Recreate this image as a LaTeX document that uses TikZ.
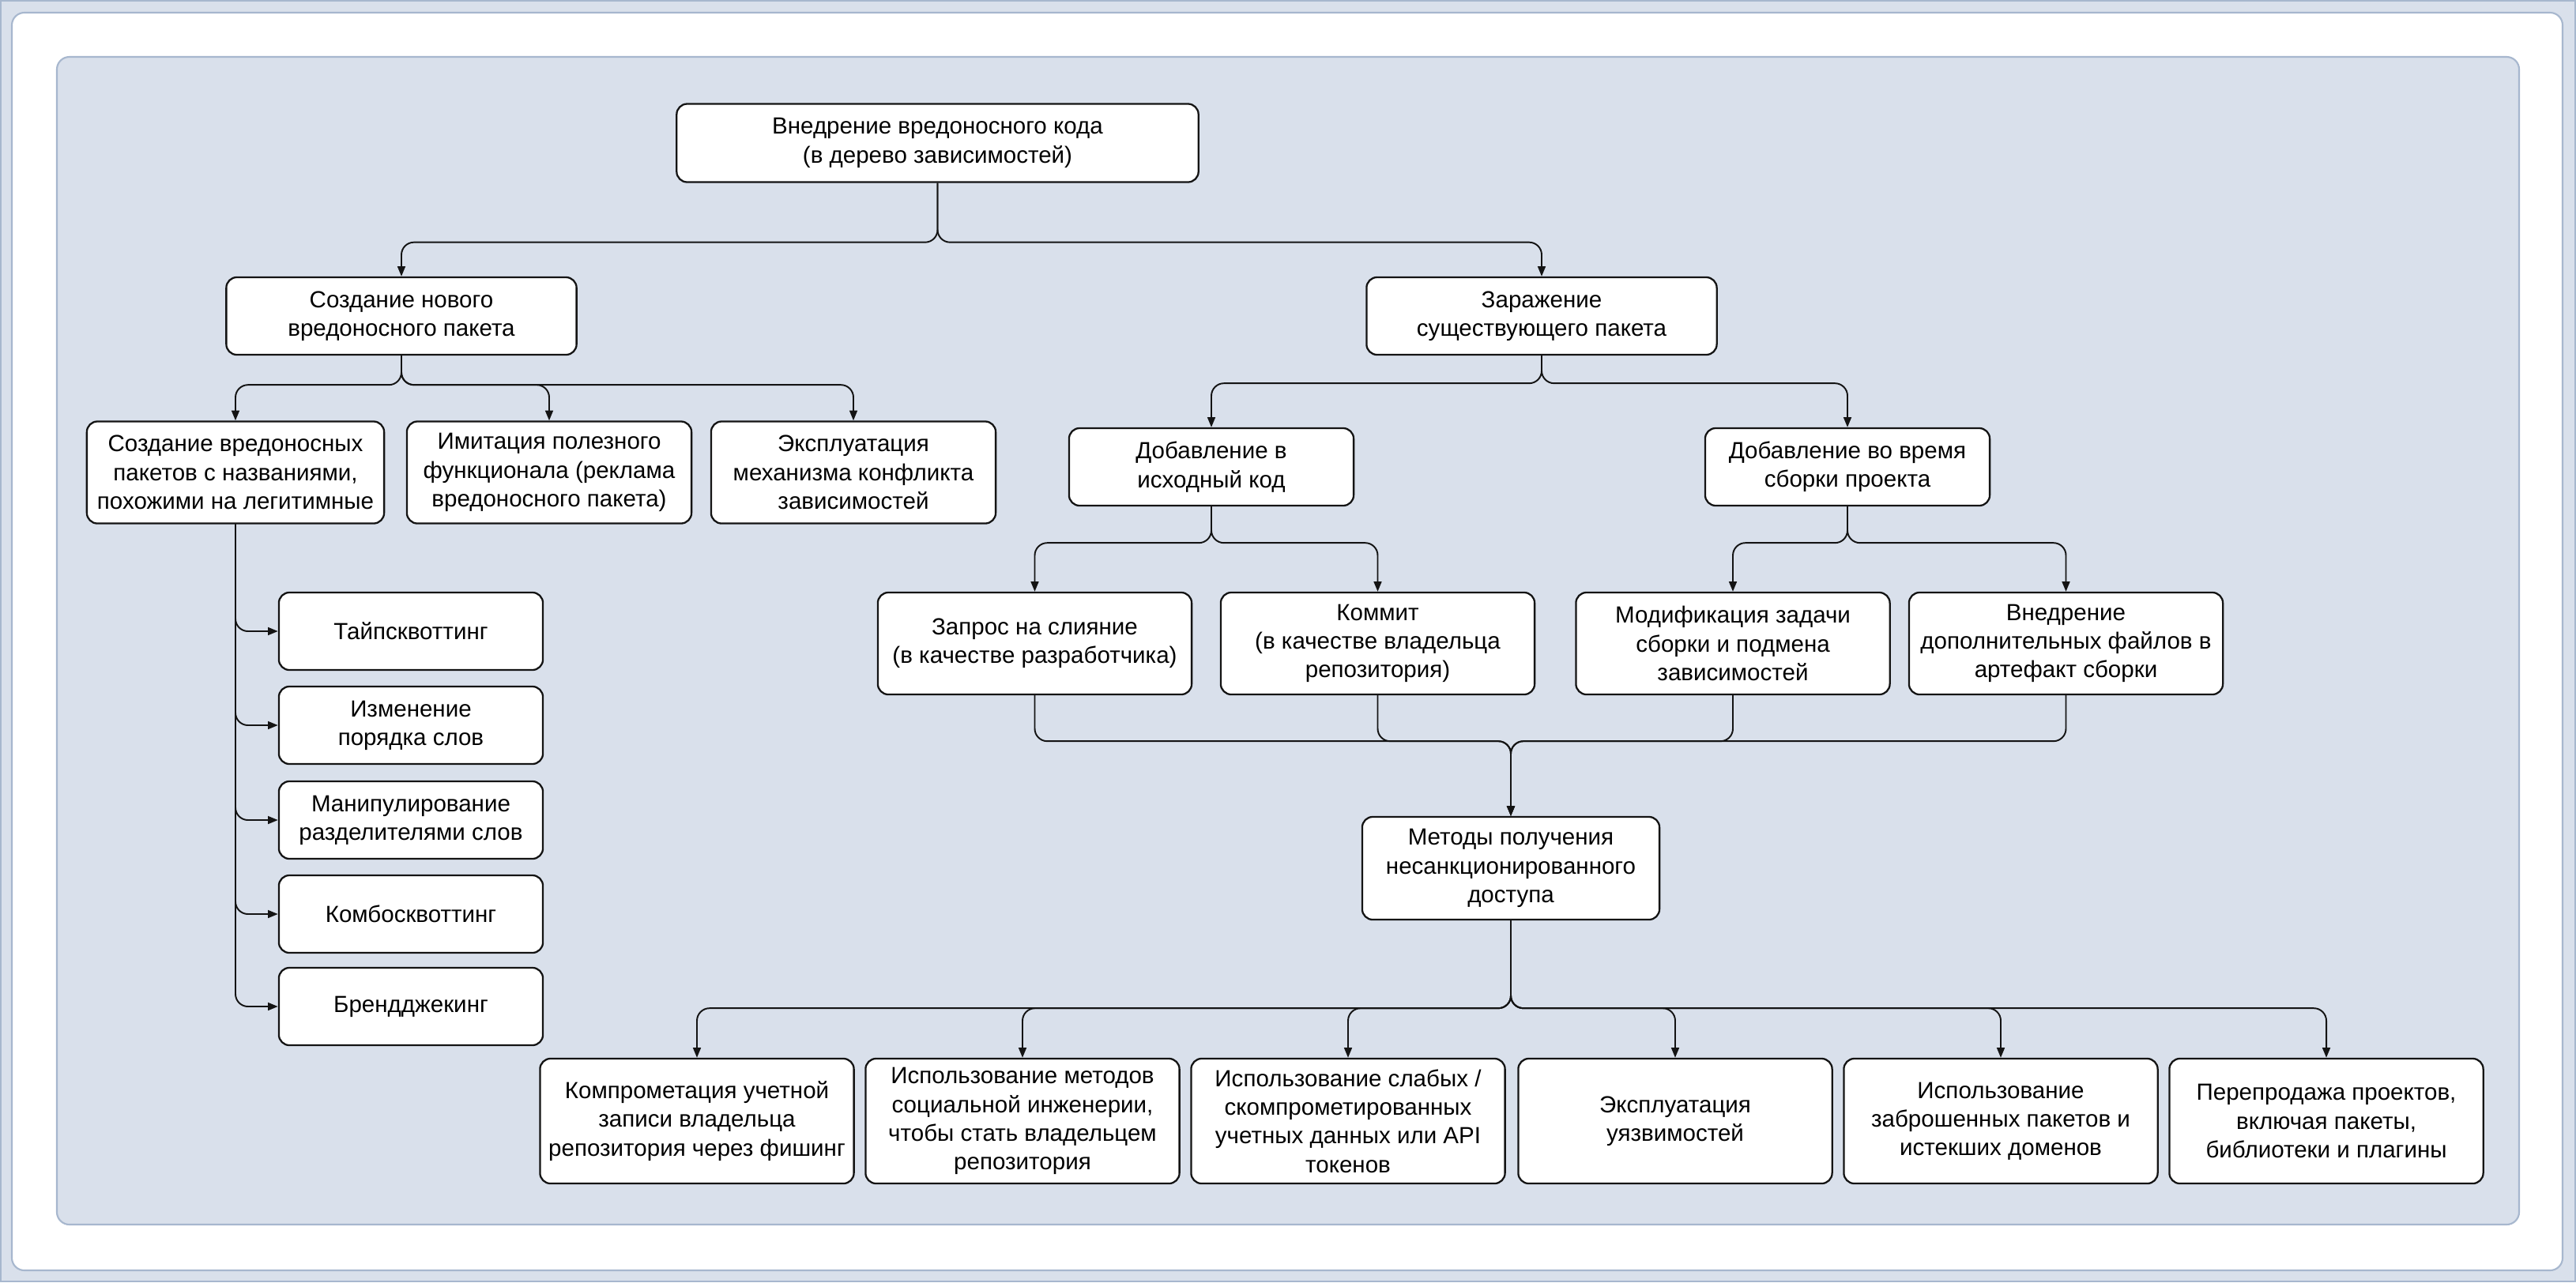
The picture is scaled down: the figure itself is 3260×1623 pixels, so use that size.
\documentclass[tikz,border=0pt]{standalone}
\usepackage{fontspec}
\setmainfont{Liberation Sans}
\usetikzlibrary{arrows.meta, calc}
\definecolor{PanelBlue}{HTML}{D9E0EB}
\definecolor{EdgeBlue}{HTML}{A7B7CE}
\definecolor{Ink}{HTML}{141414}
\newcommand{\Canvas}{
\useasboundingbox (0,0) rectangle (3260,1623);
\draw[EdgeBlue, fill=PanelBlue, line width=0.6pt] (1,1) rectangle (3259,1622);
\draw[EdgeBlue, fill=white, line width=0.6pt, rounded corners=4.5pt] (15,16) rectangle (3243,1608);
\draw[EdgeBlue, fill=PanelBlue, line width=0.6pt, rounded corners=4.5pt] (72,72) rectangle (3188,1550);
}

\begin{document}
\begin{tikzpicture}[x=0.01cm, y=-0.01cm,
    box/.style={draw=Ink, line width=0.65pt, fill=white, rounded corners=3.8pt,
        align=center, inner sep=1pt, font=\fontsize{8.4}{10.3}\selectfont},
    head/.style={box, minimum width=4.43cm, minimum height=0.98cm},
    branch/.style={box, minimum width=3.60cm, minimum height=1.29cm},
    leaf/.style={box, minimum width=3.34cm, minimum height=0.98cm},
    tactic/.style={box, minimum width=3.97cm, minimum height=1.29cm},
    method/.style={box, minimum width=3.97cm, minimum height=1.58cm},
    link/.style={Ink, line width=0.55pt, rounded corners=4.5pt,
        -{Stealth[length=3.6pt, width=2.8pt, inset=0pt]}}]
\Canvas

\node[box, minimum width=6.60cm, minimum height=0.99cm] (root) at (1186.5,181)
    {Внедрение вредоносного кода\\(в дерево зависимостей)};
\node[head] (newpkg) at (508,400) {Создание нового\\вредоносного пакета};
\node[head] (infect) at (1951,400) {Заражение\\существующего пакета};

\node[branch, minimum width=3.76cm] (lookalike) at (298,598)
    {Создание вредоносных\\пакетов с названиями,\\похожими на легитимные};
\node[branch] (imitate) at (695,598)
    {Имитация полезного\\функционала (реклама\\вредоносного пакета)};
\node[branch] (conflict) at (1080,598)
    {Эксплуатация\\механизма конфликта\\зависимостей};
\node[box, minimum width=3.60cm, minimum height=0.98cm] (srccode) at (1533,591)
    {Добавление в\\исходный код};
\node[box, minimum width=3.60cm, minimum height=0.98cm] (buildtime) at (2338,591)
    {Добавление во время\\сборки проекта};

\node[leaf] (typo) at (520,799) {Тайпсквоттинг};
\node[leaf] (reorder) at (520,918) {Изменение\\порядка слов};
\node[leaf] (delim) at (520,1038) {Манипулирование\\разделителями слов};
\node[leaf] (combo) at (520,1157) {Комбосквоттинг};
\node[leaf] (brand) at (520,1274) {Брендджекинг};

\node[tactic] (pullreq) at (1309.5,814.5) {Запрос на слияние\\(в качестве разработчика)};
\node[tactic] (commit) at (1743.5,814.5) {Коммит\\(в качестве владельца\\репозитория)};
\node[tactic] (buildtask) at (2193,814.5) {Модификация задачи\\сборки и подмена\\зависимостей};
\node[tactic] (artifact) at (2614.5,814.5) {Внедрение\\дополнительных файлов в\\артефакт сборки};

\node[box, minimum width=3.76cm, minimum height=1.30cm] (methods) at (1912,1099)
    {Методы получения\\несанкционированного\\доступа};

\node[method] (phish) at (882,1419) {Компрометация учетной\\записи владельца\\репозитория через фишинг};
\node[method] (social) at (1294,1419) {Использование методов\\социальной инженерии,\\чтобы стать владельцем\\репозитория};
\node[method] (weakcreds) at (1706,1419) {Использование слабых /\\скомпрометированных\\учетных данных или API\\токенов};
\node[method] (vulns) at (2120,1419) {Эксплуатация\\уязвимостей};
\node[method] (abandoned) at (2532,1419) {Использование\\заброшенных пакетов и\\истекших доменов};
\node[method] (resale) at (2944,1419) {Перепродажа проектов,\\включая пакеты,\\библиотеки и плагины};

\draw[link] (root.south) -- ++(0,75) -| (newpkg.north);
\draw[link] (root.south) -- ++(0,75) -| (infect.north);

\draw[link] (newpkg.south) -- ++(0,37) -| (lookalike.north);
\draw[link] (newpkg.south) -- ++(0,37) -| (imitate.north);
\draw[link] (newpkg.south) -- ++(0,37) -| (conflict.north);
\draw[link] (infect.south) -- ++(0,35) -| (srccode.north);
\draw[link] (infect.south) -- ++(0,35) -| (buildtime.north);

\draw[link] (lookalike.south) |- (typo.west);
\draw[link] (lookalike.south) |- (reorder.west);
\draw[link] (lookalike.south) |- (delim.west);
\draw[link] (lookalike.south) |- (combo.west);
\draw[link] (lookalike.south) |- (brand.west);

\draw[link] (srccode.south) -- ++(0,46) -| (pullreq.north);
\draw[link] (srccode.south) -- ++(0,46) -| (commit.north);
\draw[link] (buildtime.south) -- ++(0,46) -| (buildtask.north);
\draw[link] (buildtime.south) -- ++(0,46) -| (artifact.north);

\draw[link] (pullreq.south) -- ++(0,58) -| (methods.north);
\draw[link] (commit.south) -- ++(0,58) -| (methods.north);
\draw[link] (buildtask.south) -- ++(0,58) -| (methods.north);
\draw[link] (artifact.south) -- ++(0,58) -| (methods.north);

\draw[link] (methods.south) -- ++(0,111) -| (phish.north);
\draw[link] (methods.south) -- ++(0,111) -| (social.north);
\draw[link] (methods.south) -- ++(0,111) -| (weakcreds.north);
\draw[link] (methods.south) -- ++(0,111) -| (vulns.north);
\draw[link] (methods.south) -- ++(0,111) -| (abandoned.north);
\draw[link] (methods.south) -- ++(0,111) -| (resale.north);
\end{tikzpicture}
\end{document}
